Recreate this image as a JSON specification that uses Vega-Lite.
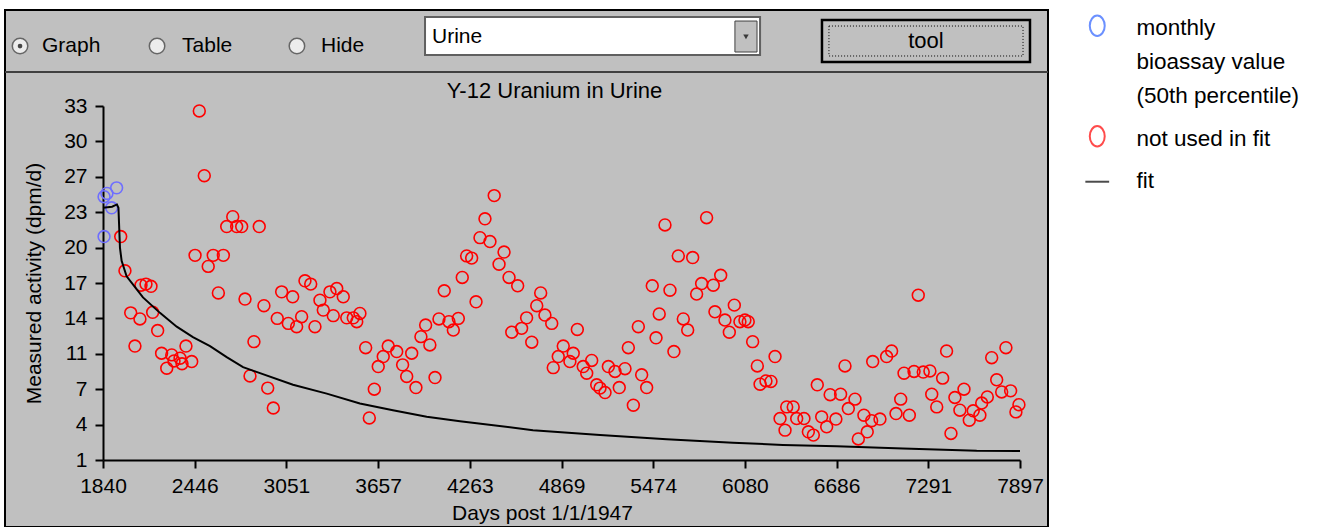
{
  "$schema": "https://vega.github.io/schema/vega-lite/v6.json",
  "width": 1043,
  "height": 517,
  "autosize": {"type": "none"},
  "padding": {"left": 5, "top": 10, "right": 292, "bottom": 0},
  "background": "#ffffff",
  "config": {
    "view": {"fill": "#c0c0c0", "stroke": "#000000", "strokeWidth": 2},
    "font": "Liberation Sans",
    "style": {"guide-label": {"lineHeight": 34}},
    "axis": {
      "grid": false, "domainColor": "#000000", "tickColor": "#000000", "domainWidth": 2, "tickWidth": 2, "tickSize": 8,
      "labelFont": "Liberation Sans", "labelFontSize": 21, "labelColor": "#000000",
      "titleFont": "Liberation Sans", "titleFontSize": 21, "titleFontWeight": "normal", "titleColor": "#000000",
      "labelOverlap": false, "labelFlush": false
    }
  },
  "title": {"text": "Y-12 Uranium in Urine", "anchor": "middle", "frame": "group", "offset": -97, "dx": 28, "fontSize": 22, "font": "Liberation Sans", "fontWeight": "normal", "color": "#000000"},
  "datasets": {
    "one": [{}],
    "points": [
      {"day": 1847, "value": 24.8, "series": "monthly bioassay value (50th percentile)"},
      {"day": 1866, "value": 25.1, "series": "monthly bioassay value (50th percentile)"},
      {"day": 1930, "value": 25.6, "series": "monthly bioassay value (50th percentile)"},
      {"day": 1897, "value": 23.8, "series": "monthly bioassay value (50th percentile)"},
      {"day": 1847, "value": 21.2, "series": "monthly bioassay value (50th percentile)"},
      {"day": 1957, "value": 21.2, "series": "not used in fit"},
      {"day": 1985, "value": 18.1, "series": "not used in fit"},
      {"day": 2023, "value": 14.3, "series": "not used in fit"},
      {"day": 2051, "value": 11.3, "series": "not used in fit"},
      {"day": 2084, "value": 13.75, "series": "not used in fit"},
      {"day": 2091, "value": 16.8, "series": "not used in fit"},
      {"day": 2124, "value": 16.9, "series": "not used in fit"},
      {"day": 2157, "value": 16.7, "series": "not used in fit"},
      {"day": 2168, "value": 14.35, "series": "not used in fit"},
      {"day": 2201, "value": 12.7, "series": "not used in fit"},
      {"day": 2227, "value": 10.65, "series": "not used in fit"},
      {"day": 2261, "value": 9.3, "series": "not used in fit"},
      {"day": 2294, "value": 10.5, "series": "not used in fit"},
      {"day": 2309, "value": 9.95, "series": "not used in fit"},
      {"day": 2349, "value": 10.2, "series": "not used in fit"},
      {"day": 2362, "value": 9.7, "series": "not used in fit"},
      {"day": 2388, "value": 11.3, "series": "not used in fit"},
      {"day": 2426, "value": 9.9, "series": "not used in fit"},
      {"day": 2448, "value": 19.5, "series": "not used in fit"},
      {"day": 2476, "value": 32.55, "series": "not used in fit"},
      {"day": 2509, "value": 26.7, "series": "not used in fit"},
      {"day": 2535, "value": 18.5, "series": "not used in fit"},
      {"day": 2568, "value": 19.5, "series": "not used in fit"},
      {"day": 2602, "value": 16.1, "series": "not used in fit"},
      {"day": 2635, "value": 19.5, "series": "not used in fit"},
      {"day": 2657, "value": 22.1, "series": "not used in fit"},
      {"day": 2697, "value": 23.0, "series": "not used in fit"},
      {"day": 2723, "value": 22.1, "series": "not used in fit"},
      {"day": 2756, "value": 22.1, "series": "not used in fit"},
      {"day": 2778, "value": 15.55, "series": "not used in fit"},
      {"day": 2811, "value": 8.6, "series": "not used in fit"},
      {"day": 2837, "value": 11.7, "series": "not used in fit"},
      {"day": 2872, "value": 22.1, "series": "not used in fit"},
      {"day": 2903, "value": 14.95, "series": "not used in fit"},
      {"day": 2928, "value": 7.5, "series": "not used in fit"},
      {"day": 2965, "value": 5.7, "series": "not used in fit"},
      {"day": 2991, "value": 13.8, "series": "not used in fit"},
      {"day": 3020, "value": 16.2, "series": "not used in fit"},
      {"day": 3064, "value": 13.35, "series": "not used in fit"},
      {"day": 3093, "value": 15.75, "series": "not used in fit"},
      {"day": 3119, "value": 13.05, "series": "not used in fit"},
      {"day": 3152, "value": 13.95, "series": "not used in fit"},
      {"day": 3174, "value": 17.2, "series": "not used in fit"},
      {"day": 3212, "value": 16.9, "series": "not used in fit"},
      {"day": 3240, "value": 13.05, "series": "not used in fit"},
      {"day": 3273, "value": 15.45, "series": "not used in fit"},
      {"day": 3295, "value": 14.55, "series": "not used in fit"},
      {"day": 3339, "value": 16.2, "series": "not used in fit"},
      {"day": 3361, "value": 14.05, "series": "not used in fit"},
      {"day": 3384, "value": 16.5, "series": "not used in fit"},
      {"day": 3427, "value": 15.75, "series": "not used in fit"},
      {"day": 3450, "value": 13.85, "series": "not used in fit"},
      {"day": 3493, "value": 13.85, "series": "not used in fit"},
      {"day": 3516, "value": 13.5, "series": "not used in fit"},
      {"day": 3537, "value": 14.25, "series": "not used in fit"},
      {"day": 3575, "value": 11.15, "series": "not used in fit"},
      {"day": 3599, "value": 4.8, "series": "not used in fit"},
      {"day": 3632, "value": 7.4, "series": "not used in fit"},
      {"day": 3658, "value": 9.45, "series": "not used in fit"},
      {"day": 3691, "value": 10.35, "series": "not used in fit"},
      {"day": 3724, "value": 11.3, "series": "not used in fit"},
      {"day": 3780, "value": 10.8, "series": "not used in fit"},
      {"day": 3819, "value": 9.6, "series": "not used in fit"},
      {"day": 3846, "value": 8.55, "series": "not used in fit"},
      {"day": 3879, "value": 10.65, "series": "not used in fit"},
      {"day": 3907, "value": 7.55, "series": "not used in fit"},
      {"day": 3940, "value": 12.15, "series": "not used in fit"},
      {"day": 3971, "value": 13.2, "series": "not used in fit"},
      {"day": 3999, "value": 11.4, "series": "not used in fit"},
      {"day": 4033, "value": 8.45, "series": "not used in fit"},
      {"day": 4059, "value": 13.75, "series": "not used in fit"},
      {"day": 4094, "value": 16.3, "series": "not used in fit"},
      {"day": 4125, "value": 13.5, "series": "not used in fit"},
      {"day": 4154, "value": 12.75, "series": "not used in fit"},
      {"day": 4187, "value": 13.8, "series": "not used in fit"},
      {"day": 4213, "value": 17.5, "series": "not used in fit"},
      {"day": 4242, "value": 19.45, "series": "not used in fit"},
      {"day": 4275, "value": 19.25, "series": "not used in fit"},
      {"day": 4304, "value": 15.3, "series": "not used in fit"},
      {"day": 4330, "value": 21.1, "series": "not used in fit"},
      {"day": 4363, "value": 22.8, "series": "not used in fit"},
      {"day": 4396, "value": 20.75, "series": "not used in fit"},
      {"day": 4424, "value": 24.9, "series": "not used in fit"},
      {"day": 4456, "value": 18.7, "series": "not used in fit"},
      {"day": 4489, "value": 19.8, "series": "not used in fit"},
      {"day": 4522, "value": 17.5, "series": "not used in fit"},
      {"day": 4540, "value": 12.55, "series": "not used in fit"},
      {"day": 4579, "value": 16.75, "series": "not used in fit"},
      {"day": 4605, "value": 12.9, "series": "not used in fit"},
      {"day": 4638, "value": 13.85, "series": "not used in fit"},
      {"day": 4672, "value": 11.65, "series": "not used in fit"},
      {"day": 4705, "value": 14.95, "series": "not used in fit"},
      {"day": 4731, "value": 16.1, "series": "not used in fit"},
      {"day": 4759, "value": 14.1, "series": "not used in fit"},
      {"day": 4804, "value": 13.35, "series": "not used in fit"},
      {"day": 4814, "value": 9.35, "series": "not used in fit"},
      {"day": 4847, "value": 10.35, "series": "not used in fit"},
      {"day": 4880, "value": 11.3, "series": "not used in fit"},
      {"day": 4924, "value": 9.9, "series": "not used in fit"},
      {"day": 4946, "value": 10.65, "series": "not used in fit"},
      {"day": 4973, "value": 12.8, "series": "not used in fit"},
      {"day": 5012, "value": 9.45, "series": "not used in fit"},
      {"day": 5035, "value": 8.85, "series": "not used in fit"},
      {"day": 5068, "value": 10.0, "series": "not used in fit"},
      {"day": 5101, "value": 7.8, "series": "not used in fit"},
      {"day": 5123, "value": 7.5, "series": "not used in fit"},
      {"day": 5156, "value": 7.1, "series": "not used in fit"},
      {"day": 5178, "value": 9.45, "series": "not used in fit"},
      {"day": 5222, "value": 9.0, "series": "not used in fit"},
      {"day": 5250, "value": 7.55, "series": "not used in fit"},
      {"day": 5288, "value": 9.25, "series": "not used in fit"},
      {"day": 5310, "value": 11.15, "series": "not used in fit"},
      {"day": 5343, "value": 5.95, "series": "not used in fit"},
      {"day": 5376, "value": 13.05, "series": "not used in fit"},
      {"day": 5398, "value": 8.7, "series": "not used in fit"},
      {"day": 5431, "value": 7.55, "series": "not used in fit"},
      {"day": 5468, "value": 16.75, "series": "not used in fit"},
      {"day": 5493, "value": 12.05, "series": "not used in fit"},
      {"day": 5514, "value": 14.2, "series": "not used in fit"},
      {"day": 5552, "value": 22.25, "series": "not used in fit"},
      {"day": 5585, "value": 16.35, "series": "not used in fit"},
      {"day": 5611, "value": 10.8, "series": "not used in fit"},
      {"day": 5640, "value": 19.45, "series": "not used in fit"},
      {"day": 5673, "value": 13.75, "series": "not used in fit"},
      {"day": 5702, "value": 12.75, "series": "not used in fit"},
      {"day": 5735, "value": 19.3, "series": "not used in fit"},
      {"day": 5761, "value": 16.0, "series": "not used in fit"},
      {"day": 5794, "value": 16.95, "series": "not used in fit"},
      {"day": 5827, "value": 22.9, "series": "not used in fit"},
      {"day": 5871, "value": 16.8, "series": "not used in fit"},
      {"day": 5882, "value": 14.4, "series": "not used in fit"},
      {"day": 5920, "value": 17.7, "series": "not used in fit"},
      {"day": 5948, "value": 13.65, "series": "not used in fit"},
      {"day": 5977, "value": 12.55, "series": "not used in fit"},
      {"day": 6010, "value": 15.0, "series": "not used in fit"},
      {"day": 6047, "value": 13.5, "series": "not used in fit"},
      {"day": 6080, "value": 13.65, "series": "not used in fit"},
      {"day": 6102, "value": 13.5, "series": "not used in fit"},
      {"day": 6131, "value": 11.7, "series": "not used in fit"},
      {"day": 6162, "value": 9.5, "series": "not used in fit"},
      {"day": 6180, "value": 7.85, "series": "not used in fit"},
      {"day": 6219, "value": 8.15, "series": "not used in fit"},
      {"day": 6252, "value": 8.1, "series": "not used in fit"},
      {"day": 6279, "value": 10.35, "series": "not used in fit"},
      {"day": 6312, "value": 4.75, "series": "not used in fit"},
      {"day": 6345, "value": 3.7, "series": "not used in fit"},
      {"day": 6356, "value": 5.8, "series": "not used in fit"},
      {"day": 6399, "value": 5.8, "series": "not used in fit"},
      {"day": 6422, "value": 4.75, "series": "not used in fit"},
      {"day": 6470, "value": 4.75, "series": "not used in fit"},
      {"day": 6499, "value": 3.55, "series": "not used in fit"},
      {"day": 6532, "value": 3.25, "series": "not used in fit"},
      {"day": 6558, "value": 7.8, "series": "not used in fit"},
      {"day": 6587, "value": 4.9, "series": "not used in fit"},
      {"day": 6620, "value": 4.0, "series": "not used in fit"},
      {"day": 6643, "value": 6.9, "series": "not used in fit"},
      {"day": 6681, "value": 4.7, "series": "not used in fit"},
      {"day": 6712, "value": 6.95, "series": "not used in fit"},
      {"day": 6741, "value": 9.5, "series": "not used in fit"},
      {"day": 6763, "value": 5.65, "series": "not used in fit"},
      {"day": 6807, "value": 6.5, "series": "not used in fit"},
      {"day": 6829, "value": 2.9, "series": "not used in fit"},
      {"day": 6866, "value": 5.05, "series": "not used in fit"},
      {"day": 6888, "value": 3.55, "series": "not used in fit"},
      {"day": 6917, "value": 4.55, "series": "not used in fit"},
      {"day": 6924, "value": 9.9, "series": "not used in fit"},
      {"day": 6972, "value": 4.7, "series": "not used in fit"},
      {"day": 7016, "value": 10.35, "series": "not used in fit"},
      {"day": 7049, "value": 10.85, "series": "not used in fit"},
      {"day": 7078, "value": 5.2, "series": "not used in fit"},
      {"day": 7109, "value": 6.5, "series": "not used in fit"},
      {"day": 7131, "value": 8.85, "series": "not used in fit"},
      {"day": 7166, "value": 5.05, "series": "not used in fit"},
      {"day": 7197, "value": 9.0, "series": "not used in fit"},
      {"day": 7225, "value": 15.9, "series": "not used in fit"},
      {"day": 7258, "value": 8.95, "series": "not used in fit"},
      {"day": 7302, "value": 9.05, "series": "not used in fit"},
      {"day": 7314, "value": 6.95, "series": "not used in fit"},
      {"day": 7347, "value": 5.8, "series": "not used in fit"},
      {"day": 7386, "value": 8.4, "series": "not used in fit"},
      {"day": 7412, "value": 10.85, "series": "not used in fit"},
      {"day": 7441, "value": 3.4, "series": "not used in fit"},
      {"day": 7467, "value": 6.65, "series": "not used in fit"},
      {"day": 7500, "value": 5.5, "series": "not used in fit"},
      {"day": 7527, "value": 7.4, "series": "not used in fit"},
      {"day": 7562, "value": 4.6, "series": "not used in fit"},
      {"day": 7588, "value": 5.45, "series": "not used in fit"},
      {"day": 7632, "value": 5.05, "series": "not used in fit"},
      {"day": 7644, "value": 6.15, "series": "not used in fit"},
      {"day": 7681, "value": 6.7, "series": "not used in fit"},
      {"day": 7710, "value": 10.25, "series": "not used in fit"},
      {"day": 7743, "value": 8.25, "series": "not used in fit"},
      {"day": 7776, "value": 7.15, "series": "not used in fit"},
      {"day": 7804, "value": 11.15, "series": "not used in fit"},
      {"day": 7835, "value": 7.25, "series": "not used in fit"},
      {"day": 7870, "value": 5.35, "series": "not used in fit"},
      {"day": 7890, "value": 6.0, "series": "not used in fit"}
    ],
    "fit": [
      {"day": 1840, "value": 23.8, "series": "fit"},
      {"day": 1900, "value": 23.9, "series": "fit"},
      {"day": 1932, "value": 24.1, "series": "fit"},
      {"day": 1942, "value": 23.8, "series": "fit"},
      {"day": 1952, "value": 20.2, "series": "fit"},
      {"day": 1963, "value": 19.0, "series": "fit"},
      {"day": 1996, "value": 17.6, "series": "fit"},
      {"day": 2104, "value": 15.7, "series": "fit"},
      {"day": 2216, "value": 14.3, "series": "fit"},
      {"day": 2327, "value": 13.05, "series": "fit"},
      {"day": 2434, "value": 12.1, "series": "fit"},
      {"day": 2547, "value": 11.3, "series": "fit"},
      {"day": 2657, "value": 10.3, "series": "fit"},
      {"day": 2765, "value": 9.4, "series": "fit"},
      {"day": 2877, "value": 8.85, "series": "fit"},
      {"day": 3095, "value": 7.8, "series": "fit"},
      {"day": 3318, "value": 7.0, "series": "fit"},
      {"day": 3537, "value": 6.1, "series": "fit"},
      {"day": 3755, "value": 5.5, "series": "fit"},
      {"day": 3978, "value": 4.9, "series": "fit"},
      {"day": 4198, "value": 4.5, "series": "fit"},
      {"day": 4680, "value": 3.7, "series": "fit"},
      {"day": 5123, "value": 3.26, "series": "fit"},
      {"day": 5563, "value": 2.87, "series": "fit"},
      {"day": 6001, "value": 2.56, "series": "fit"},
      {"day": 6331, "value": 2.36, "series": "fit"},
      {"day": 6686, "value": 2.25, "series": "fit"},
      {"day": 7124, "value": 2.05, "series": "fit"},
      {"day": 7611, "value": 1.84, "series": "fit"},
      {"day": 7897, "value": 1.81, "series": "fit"}
    ]
  },
  "layer": [
    {
      "data": {"name": "one"},
      "mark": {"type": "rule", "stroke": "#404040", "strokeWidth": 2},
      "encoding": {"y": {"datum": 36.07}}
    },
    {
      "data": {"name": "one"},
      "mark": {"type": "point", "shape": "circle", "filled": true, "fill": "#ffffff", "stroke": "#404040", "strokeWidth": 1.5, "size": 240},
      "encoding": {"x": {"datum": 1292}, "y": {"datum": 38.42}}
    },
    {
      "data": {"name": "one"},
      "mark": {"type": "point", "shape": "circle", "filled": true, "fill": "#ffffff", "stroke": "#404040", "strokeWidth": 1.5, "size": 240},
      "encoding": {"x": {"datum": 2197}, "y": {"datum": 38.42}}
    },
    {
      "data": {"name": "one"},
      "mark": {"type": "point", "shape": "circle", "filled": true, "fill": "#ffffff", "stroke": "#404040", "strokeWidth": 1.5, "size": 240},
      "encoding": {"x": {"datum": 3121}, "y": {"datum": 38.42}}
    },
    {
      "data": {"name": "one"},
      "mark": {"type": "point", "shape": "circle", "filled": true, "fill": "#000000", "strokeWidth": 0, "size": 22},
      "encoding": {"x": {"datum": 1292}, "y": {"datum": 38.42}}
    },
    {
      "data": {"name": "one"},
      "mark": {"type": "text", "align": "left", "baseline": "middle", "fontSize": 21, "font": "Liberation Sans", "color": "#000000", "text": "Graph"},
      "encoding": {"x": {"datum": 1437}, "y": {"datum": 38.42}}
    },
    {
      "data": {"name": "one"},
      "mark": {"type": "text", "align": "left", "baseline": "middle", "fontSize": 21, "font": "Liberation Sans", "color": "#000000", "text": "Table"},
      "encoding": {"x": {"datum": 2362}, "y": {"datum": 38.42}}
    },
    {
      "data": {"name": "one"},
      "mark": {"type": "text", "align": "left", "baseline": "middle", "fontSize": 21, "font": "Liberation Sans", "color": "#000000", "text": "Hide"},
      "encoding": {"x": {"datum": 3280}, "y": {"datum": 38.42}}
    },
    {
      "data": {"name": "one"},
      "mark": {"type": "rect", "fill": "#ffffff", "stroke": "#606060", "strokeWidth": 2},
      "encoding": {"x": {"datum": 3967}, "x2": {"datum": 6180}, "y": {"datum": 41.05}, "y2": {"datum": 37.61}}
    },
    {
      "data": {"name": "one"},
      "mark": {"type": "rect", "fill": "#c0c0c0", "stroke": "#404040", "strokeWidth": 1},
      "encoding": {"x": {"datum": 6014}, "x2": {"datum": 6160}, "y": {"datum": 40.68}, "y2": {"datum": 37.88}}
    },
    {
      "data": {"name": "one"},
      "mark": {"type": "point", "shape": "triangle-down", "filled": true, "fill": "#000000", "strokeWidth": 0, "size": 30},
      "encoding": {"x": {"datum": 6087}, "y": {"datum": 39.24}}
    },
    {
      "data": {"name": "one"},
      "mark": {"type": "text", "align": "left", "baseline": "middle", "fontSize": 21, "font": "Liberation Sans", "color": "#000000", "text": "Urine"},
      "encoding": {"x": {"datum": 4013}, "y": {"datum": 39.24}}
    },
    {
      "data": {"name": "one"},
      "mark": {"type": "rect", "fill": "#c0c0c0", "stroke": "#000000", "strokeWidth": 2.5},
      "encoding": {"x": {"datum": 6589}, "x2": {"datum": 7963}, "y": {"datum": 40.77}, "y2": {"datum": 36.98}}
    },
    {
      "data": {"name": "one"},
      "mark": {"type": "rect", "fill": "transparent", "stroke": "#000000", "strokeWidth": 1, "strokeDash": [1, 2]},
      "encoding": {"x": {"datum": 6635}, "x2": {"datum": 7917}, "y": {"datum": 40.23}, "y2": {"datum": 37.52}}
    },
    {
      "data": {"name": "one"},
      "mark": {"type": "text", "align": "center", "baseline": "middle", "fontSize": 22, "font": "Liberation Sans", "color": "#000000", "text": "tool"},
      "encoding": {"x": {"datum": 7276}, "y": {"datum": 38.88}}
    },
    {
      "data": {"name": "points"},
      "mark": {"type": "point", "filled": false, "size": 140, "strokeWidth": 1.6, "opacity": 1},
      "encoding": {
        "x": {
          "field": "day", "type": "quantitative",
          "scale": {"domain": [1840, 7897], "range": [98, 1015], "zero": false, "nice": false},
          "axis": {
            "values": [1840, 2445.7, 3051.4, 3657.1, 4262.8, 4868.5, 5474.2, 6079.9, 6685.6, 7291.3, 7897],
            "format": "d", "title": "Days post 1/1/1947", "offset": -67, "labelPadding": 7, "titlePadding": 6, "titleX": 537
          }
        },
        "y": {
          "field": "value", "type": "quantitative",
          "scale": {"domain": [1, 33], "range": [450, 96], "zero": false, "nice": false},
          "axis": {
            "values": [1, 4.2, 7.4, 10.6, 13.8, 17, 20.2, 23.4, 26.6, 29.8, 33],
            "format": "d", "title": "Measured activity (dpm/d)", "offset": -98, "labelPadding": 8, "titlePadding": 19
          }
        },
        "color": {
          "condition": {"test": "datum.series === 'not used in fit'", "value": "#ff0000"},
          "value": "#6e6eff"
        }
      }
    },
    {
      "data": {"name": "fit"},
      "mark": {"type": "line", "strokeWidth": 2, "interpolate": "linear", "color": "#000000"},
      "encoding": {
        "x": {"field": "day", "type": "quantitative"},
        "y": {"field": "value", "type": "quantitative"}
      }
    },
    {
      "data": {"name": "points"},
      "transform": [{"filter": "false"}],
      "mark": {"type": "point", "filled": false},
      "encoding": {
        "x": {"field": "day", "type": "quantitative"},
        "y": {"field": "value", "type": "quantitative"},
        "color": {
          "field": "series", "type": "nominal",
          "scale": {"domain": ["monthly bioassay value (50th percentile)", "not used in fit", "fit"], "range": ["#2d62ff", "#ff0000", "#000000"]},
          "legend": {
            "title": null, "orient": "none", "legendX": 1081, "legendY": -4, "padding": 0,
            "labelFont": "Liberation Sans", "labelFontSize": 22.5, "labelColor": "#000000", "labelOffset": 28, "labelLimit": 400,
            "symbolSize": 289, "symbolStrokeWidth": 2, "labelBaseline": "top", "rowPadding": 8.5,
            "labelExpr": "datum.label == 'monthly bioassay value (50th percentile)' ? ['monthly', 'bioassay value', '(50th percentile)'] : datum.label"
          }
        },
        "shape": {
          "field": "series", "type": "nominal",
          "scale": {"domain": ["monthly bioassay value (50th percentile)", "not used in fit", "fit"], "range": ["M0,-0.2A0.88,1.2,0,1,1,0,2.2A0.88,1.2,0,1,1,0,-0.2Z", "M0,-0.2A0.88,1.2,0,1,1,0,2.2A0.88,1.2,0,1,1,0,-0.2Z", "M-1.4,1.35L1.4,1.35"]},
          "legend": {
            "title": null, "orient": "none", "legendX": 1081, "legendY": -4, "padding": 0,
            "labelFont": "Liberation Sans", "labelFontSize": 22.5, "labelColor": "#000000", "labelOffset": 28, "labelLimit": 400,
            "symbolSize": 289, "symbolStrokeWidth": 2, "labelBaseline": "top", "rowPadding": 8.5,
            "labelExpr": "datum.label == 'monthly bioassay value (50th percentile)' ? ['monthly', 'bioassay value', '(50th percentile)'] : datum.label"
          }
        }
      }
    }
  ]
}
